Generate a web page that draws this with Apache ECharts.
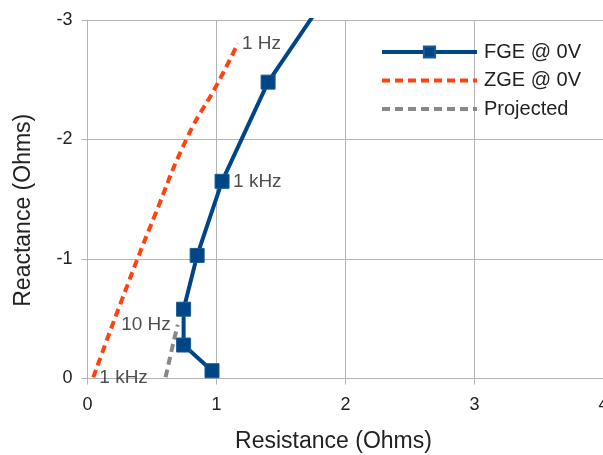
<!DOCTYPE html>
<html>
<head>
<meta charset="utf-8">
<script src="https://cdn.jsdelivr.net/npm/echarts@6/dist/echarts.min.js"></script>
<style>
  html, body { margin: 0; padding: 0; background: #fff; }
  #chart { width: 603px; height: 455px; }
</style>
</head>
<body>
<div id="chart"></div>
<script>
// resistance / reactance pairs
var fgePoints = [
  [0.965, -0.065], [0.745, -0.28], [0.745, -0.58], [0.85, -1.03],
  [1.043, -1.65], [1.40, -2.48], [2.01, -3.45]
];
var zgePoints = [
  [0.045, -0.01], [0.267, -0.66], [0.52, -1.36],
  [0.775, -2.02], [1.009, -2.47], [1.166, -2.805]
];
var projPoints = [[0.605, -0.01], [0.67, -0.32], [0.70, -0.45]];

// annotation text at data positions
var noteText = ['1 kHz', '1 Hz', '10 Hz', '1 kHz'];
var notePoints = [[1.043, -1.65], [1.166, -2.805], [0.70, -0.45], [0.045, -0.01]];
var notePos = ['right', 'right', 'left', 'right'];
var noteGap = [11, 4, 7, 6];

var xTicks = [0, 1, 2, 3, 4];
var yTicks = [0, -1, -2, -3];

var chart = echarts.init(document.getElementById('chart'));

var notes = [];
for (var i = 0; i < noteText.length; i++) {
  notes.push({
    value: notePoints[i],
    label: { show: true, formatter: noteText[i], position: notePos[i], distance: noteGap[i] }
  });
}

var gridColor = '#b3b3b3';
var textColor = '#222';

chart.setOption({
  animation: false,
  textStyle: { fontFamily: 'Liberation Sans, Arial, sans-serif' },
  grid: {
    left: 87.5, right: -0.5, top: 20, bottom: 76.5,
    containLabel: false, outerBoundsMode: 'none'
  },
  legend: {
    left: 375,
    top: 37,
    orient: 'vertical',
    itemWidth: 95,
    itemHeight: 14,
    itemGap: 8.5,
    textStyle: { fontSize: 20, lineHeight: 20, color: textColor, padding: [0, 0, 0, 2] },
    data: [
      { name: 'FGE @ 0V', lineStyle: { width: 4 } },
      { name: 'ZGE @ 0V', itemStyle: { opacity: 0 }, lineStyle: { width: 4 } },
      { name: 'Projected', itemStyle: { opacity: 0 }, lineStyle: { width: 4 } }
    ]
  },
  xAxis: {
    type: 'value',
    min: xTicks[0],
    max: xTicks[xTicks.length - 1],
    interval: 1,
    name: 'Resistance (Ohms)',
    nameLocation: 'middle',
    nameGap: 52,
    nameTextStyle: { fontSize: 23, color: textColor, padding: [0, 24, 0, 0] },
    axisLine: { show: true, lineStyle: { color: gridColor } },
    axisTick: { show: true, length: 6, lineStyle: { color: gridColor } },
    axisLabel: { fontSize: 18, color: textColor, margin: 18 },
    splitLine: { show: true, lineStyle: { color: gridColor } }
  },
  yAxis: {
    type: 'value',
    inverse: true,
    min: yTicks[yTicks.length - 1],
    max: yTicks[0],
    interval: 1,
    name: 'Reactance (Ohms)',
    nameLocation: 'middle',
    nameGap: 52,
    nameTextStyle: { fontSize: 23, color: textColor, padding: [0, 22, 0, 0] },
    axisLine: { show: true, lineStyle: { color: gridColor } },
    axisTick: { show: true, length: 6, lineStyle: { color: gridColor } },
    axisLabel: { fontSize: 18, color: textColor, margin: 15 },
    splitLine: { show: true, lineStyle: { color: gridColor } }
  },
  series: [
    {
      name: 'FGE @ 0V',
      type: 'line',
      data: fgePoints,
      symbol: 'rect',
      symbolSize: 14,
      showAllSymbol: true,
      clip: true,
      color: '#004586',
      lineStyle: { width: 4, color: '#004586' },
      itemStyle: { color: '#004586', borderColor: '#1a5a96', borderWidth: 1 },
      z: 3
    },
    {
      name: 'ZGE @ 0V',
      type: 'line',
      data: zgePoints,
      smooth: 0.5,
      symbol: 'none',
      color: '#ff420e',
      lineStyle: { width: 4, type: [8, 5], color: '#ff420e' },
      z: 2
    },
    {
      name: 'Projected',
      type: 'line',
      data: projPoints,
      smooth: 0.3,
      symbol: 'none',
      color: '#888888',
      lineStyle: { width: 4, type: [8, 5], color: '#888888' },
      z: 1
    },
    {
      type: 'scatter',
      data: notes,
      symbolSize: 0,
      silent: true,
      label: { fontSize: 19, color: textColor },
      z: 4
    }
  ]
});
</script>
</body>
</html>
